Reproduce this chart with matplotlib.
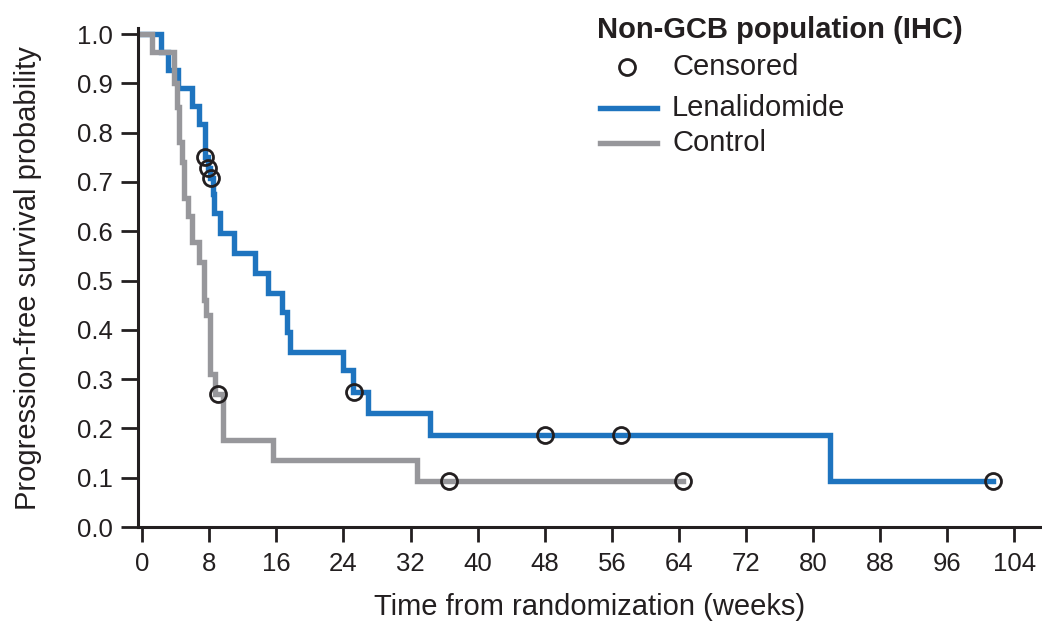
import matplotlib
matplotlib.use("Agg")
import matplotlib.pyplot as plt
from matplotlib.lines import Line2D

plt.rcParams['font.family'] = ['Liberation Sans', 'DejaVu Sans']

# Kaplan-Meier steps (weeks, survival probability)
len_weeks = [0, 2.3, 3.1, 4.3, 6.0, 6.8, 7.5, 7.8, 8.1, 8.4, 8.6, 9.3, 10.9,
             13.5, 15.0, 16.7, 17.3, 17.6, 24.0, 25.1, 26.9, 34.3, 82.0, 101.4]
len_surv = [1.0, 0.963, 0.927, 0.89, 0.855, 0.818, 0.75, 0.728, 0.708, 0.675,
            0.637, 0.596, 0.555, 0.515, 0.475, 0.436, 0.396, 0.355, 0.318,
            0.274, 0.231, 0.187, 0.093, 0.093]
len_cens_weeks = [7.5, 7.8, 8.2, 25.3, 48.0, 57.1, 101.4]
len_cens_surv = [0.75, 0.728, 0.708, 0.274, 0.187, 0.187, 0.093]

ctl_weeks = [0, 1.2, 3.8, 4.1, 4.4, 4.7, 5.0, 5.5, 6.0, 6.8, 7.4, 7.6, 8.1, 8.7,
             9.6, 15.6, 32.8, 64.5]
ctl_surv = [1.0, 0.963, 0.9, 0.852, 0.78, 0.741, 0.667, 0.630, 0.578, 0.537,
            0.46, 0.43, 0.31, 0.27, 0.177, 0.136, 0.093, 0.093]
ctl_cens_weeks = [9.1, 36.6, 64.5]
ctl_cens_surv = [0.27, 0.093, 0.093]

x_ticks = list(range(0, 105, 8))
y_ticks = [0.0, 0.1, 0.2, 0.3, 0.4, 0.5, 0.6, 0.7, 0.8, 0.9, 1.0]

blue = '#1e74bf'
grey = '#97979b'
ink = '#231f20'

fig = plt.figure(figsize=(10.42, 6.26), dpi=100)
ax = fig.add_axes([0.1324, 0.1581, 0.8676, 0.797])

ax.step(len_weeks, len_surv, where='post', color=blue, lw=3.9, solid_joinstyle='miter')
ax.step(ctl_weeks, ctl_surv, where='post', color=grey, lw=3.9, solid_joinstyle='miter')
ax.plot(len_cens_weeks, len_cens_surv, 'o', ms=11.5, mfc='none', mec=ink, mew=2)
ax.plot(ctl_cens_weeks, ctl_cens_surv, 'o', ms=11.5, mfc='none', mec=ink, mew=2)

ax.set_xlim(-0.5, 107.3)
ax.set_ylim(0, 1.012)
ax.set_xticks(x_ticks)
ax.set_yticks(y_ticks)
ax.set_yticklabels([f'{v:.1f}' for v in y_ticks])
ax.spines['top'].set_visible(False)
ax.spines['right'].set_visible(False)
for s in ['left', 'bottom']:
    ax.spines[s].set_linewidth(2.2)
    ax.spines[s].set_color(ink)
ax.tick_params(axis='both', colors=ink, labelsize=18.5, width=2, direction='out')
ax.tick_params(axis='x', length=11, pad=7)
ax.tick_params(axis='y', length=12, pad=6)

ax.set_xlabel('Time from randomization (weeks)', fontsize=21, color=ink, labelpad=12)
ax.set_ylabel('Progression-free survival probability', fontsize=21, color=ink, labelpad=25)

# legend drawn by hand in figure pixel positions
W, H = 1042, 626
fig.text(597 / W, 1 - 30 / H, 'Non-GCB population (IHC)', fontsize=21,
         fontweight='bold', color=ink, va='center', ha='left')
fig.add_artist(Line2D([627 / W], [1 - 67 / H], marker='o', ms=11.5, mfc='none',
                      mec=ink, mew=2, transform=fig.transFigure))
fig.add_artist(Line2D([600 / W, 657 / W], [1 - 108 / H] * 2, color=blue, lw=3.9,
                      transform=fig.transFigure))
fig.add_artist(Line2D([600 / W, 657 / W], [1 - 143 / H] * 2, color=grey, lw=3.9,
                      transform=fig.transFigure))
for label, ypx in [('Censored', 67), ('Lenalidomide', 108), ('Control', 143)]:
    fig.text(672 / W, 1 - ypx / H, label, fontsize=21, color=ink, va='center', ha='left')

fig.savefig('out.png', dpi=100)
